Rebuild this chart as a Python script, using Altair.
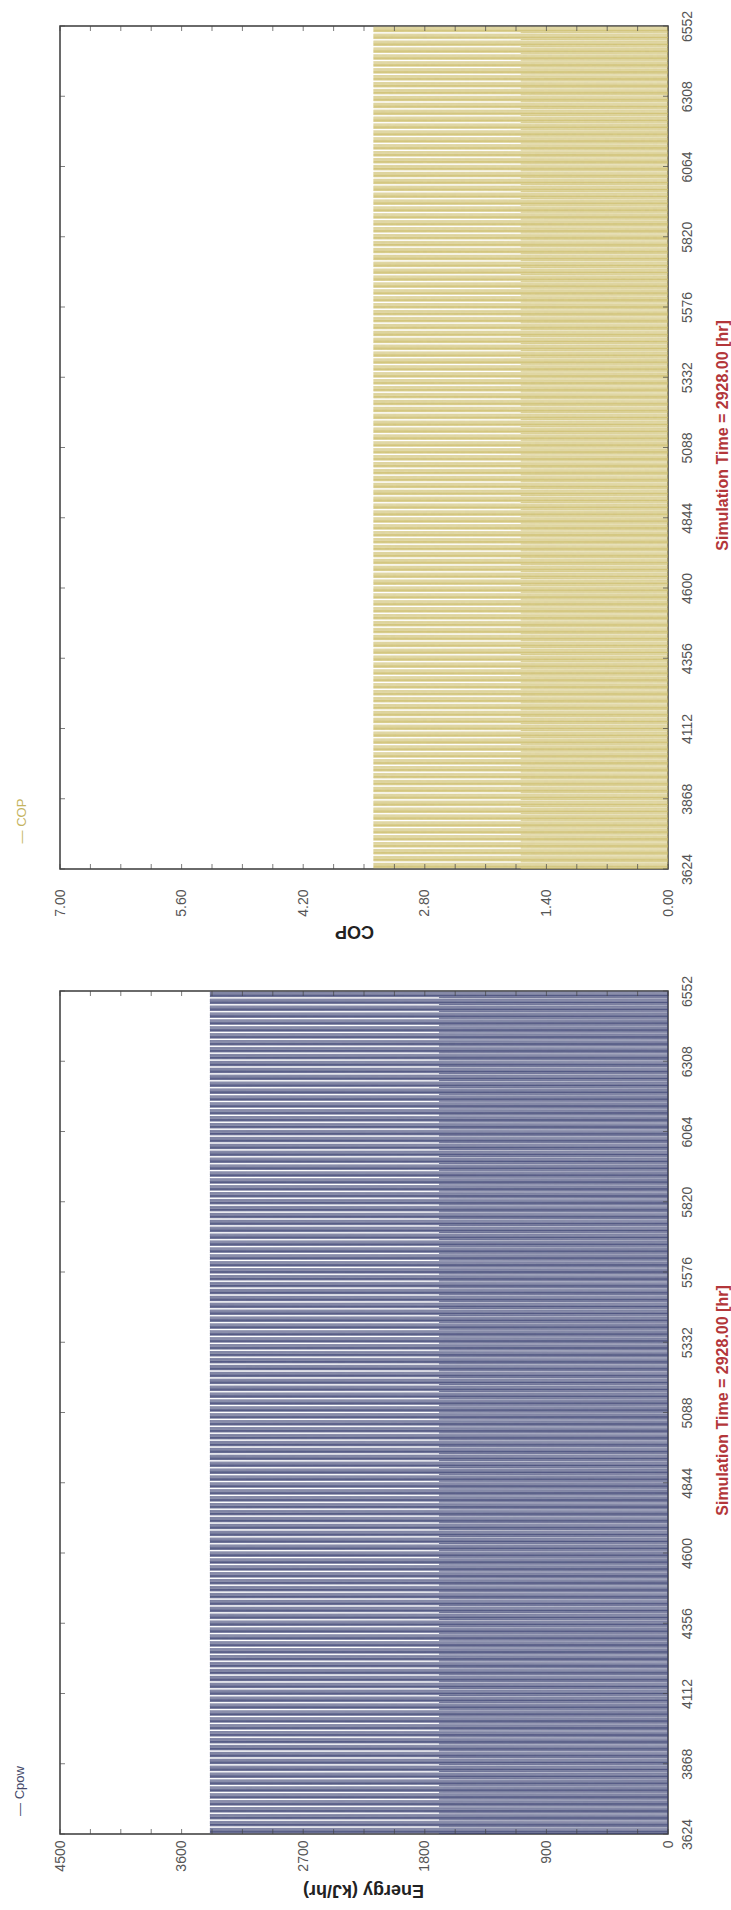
import altair as alt
import pandas as pd

# Simulation window (hours of the year)
T_START = 3624
T_END = 6552
TIME_TICKS = [3624, 3868, 4112, 4356, 4600, 4844, 5088, 5332, 5576, 5820, 6064, 6308, 6552]

# Typical daily operating cycle, hour 0..23 (compressor power, kJ/hr)
CPOW_DAY = [0, 1695, 0, 0, 3390, 3390, 0, 3390, 0, 3390, 0, 3390,
            3390, 0, 0, 3390, 3390, 0, 0, 3390, 3390, 0, 0, 0]
# Matching daily cycle of the coefficient of performance
COP_DAY = [0, 1.695, 0, 0, 3.39, 3.39, 0, 3.39, 0, 3.39, 0, 3.39,
           3.39, 0, 0, 3.39, 3.39, 0, 0, 3.39, 3.39, 0, 0, 0]

ENERGY_TICKS = [0, 900, 1800, 2700, 3600, 4500]
COP_TICKS = [0.0, 1.4, 2.8, 4.2, 5.6, 7.0]

W = 608
H = 843
LABEL_FONT = "Liberation Sans"


def hourly(day_profile):
    hours = list(range(T_START, T_END + 1))
    vals = [day_profile[(t - T_START) % 24] for t in hours]
    return pd.DataFrame({"t": hours, "val": vals})


def minor_ticks(major):
    out = []
    for a, b in zip(major[:-1], major[1:]):
        step = (b - a) / 4
        out += [a + step * k for k in range(1, 4)]
    return out + list(major)


def panel(day_profile, domain, major, fmt, color, width, title, title_x, title_y,
          label_pad, legend, legend_color, legend_x, legend_y, guard=False):
    xs = alt.Scale(domain=domain, reverse=True, nice=False, zero=False)
    ys = alt.Scale(domain=[T_START, T_END], nice=False, zero=False)

    line = alt.Chart(hourly(day_profile)).mark_line(
        color=color, strokeWidth=width, clip=True
    ).encode(
        x=alt.X("val:Q", scale=xs, axis=alt.Axis(
            values=major, format=fmt, labelAngle=270, labelAlign="right",
            labelBaseline="middle", labelPadding=label_pad, ticks=False,
            domain=False, grid=False, labelFont=LABEL_FONT, labelFontSize=14,
            labelColor="#555555", title=title, titleAngle=180,
            titleFont=LABEL_FONT, titleFontSize=18, titleFontWeight="bold",
            titleColor="#222222", titleAlign="center", titleBaseline="middle",
            titleX=title_x, titleY=title_y)),
        y=alt.Y("t:Q", scale=ys, axis=alt.Axis(
            orient="right", values=TIME_TICKS, format="d", labelAngle=270,
            labelAlign="center", labelBaseline="top", labelPadding=12,
            ticks=False, domain=False, grid=False, labelFont=LABEL_FONT,
            labelFontSize=14, labelColor="#555555",
            title="Simulation Time = 2928.00 [hr]", titleAngle=270,
            titleFont=LABEL_FONT, titleFontSize=16, titleFontWeight="bold",
            titleColor="#b3363a", titleAlign="center", titleBaseline="middle",
            titleX=54, titleY=409)),
        order="t:Q",
    )

    xt = pd.DataFrame({"val": minor_ticks(major)})
    tick_bottom = alt.Chart(xt).mark_tick(color="#444444", size=5, thickness=1).encode(
        x=alt.X("val:Q", scale=xs), y=alt.value(H - 2.5))
    tick_top = alt.Chart(xt).mark_tick(color="#444444", size=5, thickness=1).encode(
        x=alt.X("val:Q", scale=xs), y=alt.value(2.5))
    yt = pd.DataFrame({"t": TIME_TICKS})
    tick_right = alt.Chart(yt).mark_tick(color="#444444", size=5, thickness=1).encode(
        y=alt.Y("t:Q", scale=ys), x=alt.value(W - 2.5))
    tick_left = alt.Chart(yt).mark_tick(color="#444444", size=5, thickness=1).encode(
        y=alt.Y("t:Q", scale=ys), x=alt.value(2.5))

    leg = alt.Chart(pd.DataFrame({"label": [legend]})).mark_text(
        angle=270, align="center", baseline="middle", font=LABEL_FONT,
        fontSize=13, color=legend_color
    ).encode(x=alt.value(legend_x), y=alt.value(legend_y), text="label:N")

    layers = [line, tick_bottom, tick_top, tick_right, tick_left, leg]
    if guard:
        # fixes the top-left corner of the drawing
        layers.append(alt.Chart(pd.DataFrame({"a": [0]})).mark_rect(opacity=0).encode(
            x=alt.value(-59), x2=alt.value(-58), y=alt.value(-25), y2=alt.value(-24)))
    return alt.layer(*layers).properties(width=W, height=H)


cop_panel = panel(COP_DAY, [0, 7], COP_TICKS, ".2f", "#cbbb68", 0.45, "COP", 294, 61,
                  20, "\u2014 COP", "#c4b35e", -38, 795, guard=True)
cpow_panel = panel(CPOW_DAY, [0, 4500], ENERGY_TICKS, "d", "#383e70", 0.45,
                   "Energy (kJ/hr)", 303, 55, 6, "\u2014 Cpow", "#454a6a",
                   -40, 800)

chart = alt.vconcat(cop_panel, cpow_panel, spacing=122, bounds="flush").properties(
    padding={"left": 0, "top": 0, "right": 0, "bottom": 0},
    background="white",
).configure_view(stroke="#3a3a3a", strokeWidth=1.5)

chart.save("out.html", embed_options={"renderer": "svg", "actions": False})
